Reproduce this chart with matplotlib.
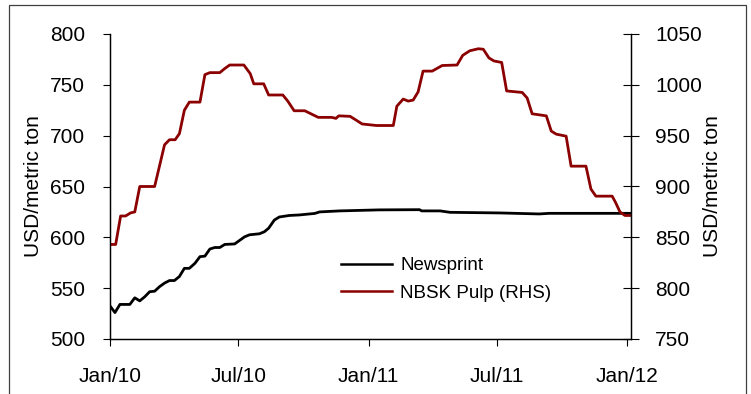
import matplotlib
matplotlib.use("Agg")
import matplotlib.pyplot as plt
import matplotlib.dates as mdates
import pandas as pd
from matplotlib.patches import Rectangle

plt.rcParams['font.family'] = ['Liberation Sans', 'DejaVu Sans']

# Newsprint (LHS), USD/metric ton
news_dates = ["2010-01-01", "2010-01-08", "2010-01-15", "2010-01-29", "2010-02-05",
              "2010-02-12", "2010-02-19", "2010-02-26", "2010-03-05", "2010-03-12",
              "2010-03-19", "2010-03-26", "2010-04-02", "2010-04-09", "2010-04-16",
              "2010-04-23", "2010-05-01", "2010-05-08", "2010-05-15", "2010-05-22",
              "2010-05-29", "2010-06-05", "2010-06-12", "2010-06-26", "2010-07-03",
              "2010-07-10", "2010-07-17", "2010-07-31", "2010-08-07", "2010-08-13",
              "2010-08-21", "2010-08-28", "2010-09-11", "2010-09-25", "2010-10-17",
              "2010-10-24", "2010-11-21", "2011-01-16", "2011-03-14", "2011-03-17",
              "2011-04-12", "2011-04-26", "2011-07-05", "2011-08-30", "2011-09-13",
              "2012-01-07"]
news_values = [532.5, 526, 534, 534, 540.5,
               537.5, 541.5, 546.5, 547, 551.5,
               555, 557.5, 557.5, 561.5, 569.5,
               569.5, 574.5, 581, 581.5, 588.5,
               590, 590, 593, 593.5, 597,
               600.5, 602.5, 603.5, 605.5, 609,
               617, 620, 621.5, 622, 623.5,
               625, 626, 627, 627.2, 626,
               626, 624.6, 624, 623, 623.6,
               623.6]

# NBSK Pulp (RHS), USD/metric ton
pulp_dates = ["2010-01-01", "2010-01-09", "2010-01-16", "2010-01-23", "2010-01-30",
              "2010-02-05", "2010-02-12", "2010-03-05", "2010-03-19", "2010-03-26",
              "2010-04-03", "2010-04-09", "2010-04-16", "2010-04-23", "2010-05-08",
              "2010-05-15", "2010-05-22", "2010-06-05", "2010-06-12", "2010-06-19",
              "2010-07-09", "2010-07-18", "2010-07-23", "2010-08-06", "2010-08-13",
              "2010-09-02", "2010-09-09", "2010-09-18", "2010-10-03", "2010-10-22",
              "2010-11-10", "2010-11-16", "2010-11-20", "2010-12-06", "2010-12-14",
              "2010-12-23", "2011-01-12", "2011-02-05", "2011-02-10", "2011-02-19",
              "2011-02-26", "2011-03-05", "2011-03-12", "2011-03-19", "2011-04-01",
              "2011-04-06", "2011-04-15", "2011-05-06", "2011-05-14", "2011-05-24",
              "2011-06-05", "2011-06-12", "2011-06-20", "2011-06-27", "2011-07-08",
              "2011-07-15", "2011-08-06", "2011-08-13", "2011-08-20", "2011-09-09",
              "2011-09-16", "2011-09-23", "2011-10-07", "2011-10-14", "2011-11-04",
              "2011-11-11", "2011-11-18", "2011-12-11", "2011-12-16", "2011-12-22",
              "2011-12-29", "2012-01-07"]
pulp_values = [843, 843, 871, 871, 874,
               875, 900, 900, 941, 946,
               946, 952, 975, 983, 983,
               1010, 1012, 1012, 1016, 1019.5,
               1019.5, 1011, 1001, 1001, 990,
               990, 984, 974.5, 974.5, 968,
               968, 967, 969.5, 969, 965.5,
               961.5, 960, 960, 979, 986,
               984, 985, 993, 1013.5, 1013.5,
               1015.5, 1019, 1019.5, 1029, 1033.5,
               1035.5, 1035, 1026.5, 1023.5, 1022,
               994, 992.5, 987, 971.5, 969.5,
               954.5, 951.5, 949.5, 920, 920,
               897.5, 890.5, 890.5, 884, 875,
               871.5, 871.5]

x_ticks = ["2010-01-01", "2010-07-01", "2011-01-01", "2011-07-01", "2012-01-01"]
x_tick_labels = ["Jan/10", "Jul/10", "Jan/11", "Jul/11", "Jan/12"]
left_ticks = [500, 550, 600, 650, 700, 750, 800]
right_ticks = [750, 800, 850, 900, 950, 1000, 1050]

W, H = 751, 394
fig = plt.figure(figsize=(W / 100, H / 100), dpi=100)
ax = fig.add_axes([110 / W, 1 - 339 / H, (631 - 110) / W, (339 - 34) / H])
ax2 = ax.twinx()

nd = pd.to_datetime(news_dates)
pdts = pd.to_datetime(pulp_dates)
l1, = ax.plot(nd, news_values, color='black', lw=2.0, label='Newsprint')
l2, = ax2.plot(pdts, pulp_values, color='#8B0000', lw=2.0, label='NBSK Pulp (RHS)')

ax.set_xlim(pd.Timestamp("2010-01-01"), pd.Timestamp("2012-01-06 14:00"))
ax.set_ylim(500, 800)
ax2.set_ylim(750, 1050)
ax.set_xticks(pd.to_datetime(x_ticks))
ax.set_xticklabels(x_tick_labels)
ax.set_yticks(left_ticks)
ax2.set_yticks(right_ticks)

for a in (ax, ax2):
    a.spines['top'].set_visible(False)
    for s in a.spines.values():
        s.set_linewidth(0.9)
        s.set_color('black')

ax.tick_params(axis='y', direction='out', length=5, width=0.8, pad=13, labelsize=15)
ax.tick_params(axis='x', direction='out', length=5, width=0.8, pad=15, labelsize=15)
ax2.tick_params(axis='y', direction='inout', length=11, width=0.8, pad=12, labelsize=15)

ax.set_ylabel('USD/metric ton', fontsize=15)
ax2.set_ylabel('USD/metric ton', fontsize=15)
ax.yaxis.set_label_coords((43 - 110) / 521, 0.5)
ax2.yaxis.set_label_coords((703 - 110) / 521, 0.5)

leg = ax2.legend(handles=[l1, l2], loc='center left',
                 bbox_to_anchor=((341 - 110) / 521, (339 - 279.5) / 305),
                 frameon=False, fontsize=13.5, borderaxespad=0, borderpad=0,
                 handlelength=2.7, handletextpad=0.45, labelspacing=0.55)
for h in leg.get_lines():
    h.set_linewidth(1.8)

fig.patches.append(Rectangle((9 / W, -0.05), (746 - 9) / W, 1 - 5 / H + 0.05,
                             transform=fig.transFigure, fill=False,
                             edgecolor='#404040', linewidth=0.9))

fig.savefig('out.png', dpi=100)
